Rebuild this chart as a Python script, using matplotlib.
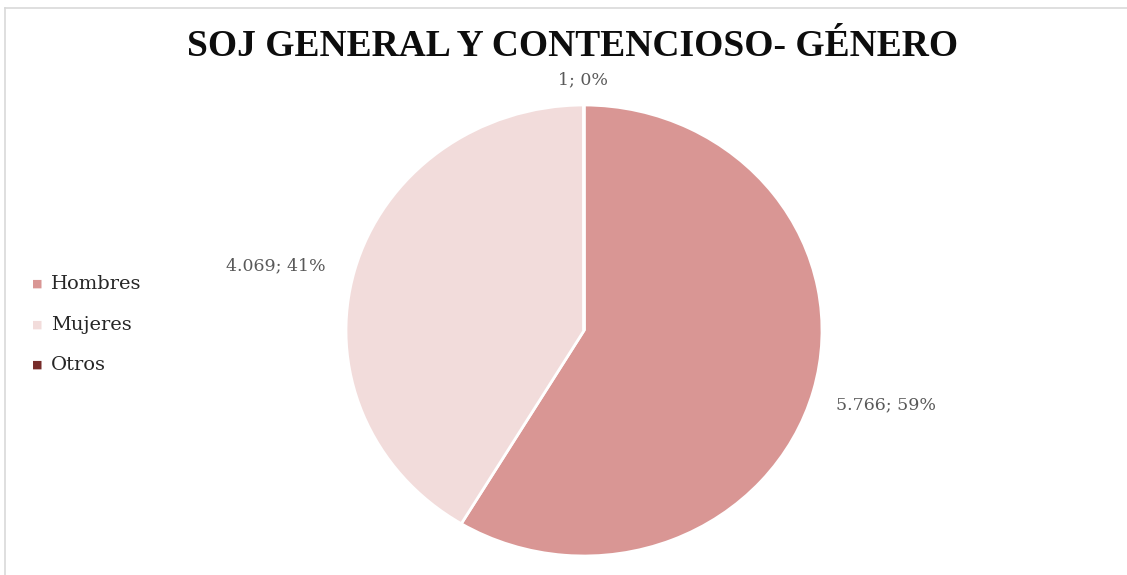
import matplotlib.pyplot as plt
from matplotlib.lines import Line2D

categorias = ['Hombres', 'Mujeres', 'Otros']
valores = [5766, 4069, 1]
etiquetas = ['5.766; 59%', '4.069; 41%', '1; 0%']
colores = ['#D99694', '#F2DCDB', '#772C2A']

W, H = 1127, 575
fig = plt.figure(figsize=(W / 100, H / 100), dpi=100)

# marco gris (solo izquierda y arriba visibles)
fig.add_artist(Line2D([5 / W, 5 / W], [0, 1 - 8 / H], color='#D9D9D9', lw=1.2))
fig.add_artist(Line2D([5 / W, 1], [1 - 8 / H, 1 - 8 / H], color='#D9D9D9', lw=1.2))

# eje del pastel: x 346..822, y 105..556
x0, x1, y0, y1 = 346, 822, 105, 556
ax = fig.add_axes([x0 / W, 1 - y1 / H, (x1 - x0) / W, (y1 - y0) / H])
wedges, _ = ax.pie(valores, colors=colores, startangle=90, counterclock=False,
                   wedgeprops=dict(edgecolor='white', linewidth=2))
ax.set_aspect('auto')
ax.set_xlim(-1.0, 1.0)
ax.set_ylim(-1.0, 1.0)

# etiquetas de datos
pos = [(886, 405), (276, 266), (583, 80)]
for (px, py), t in zip(pos, etiquetas):
    fig.text(px / W, 1 - py / H, t, ha='center', va='center', fontsize=12.5,
             family='DejaVu Serif', color='#595959')

fig.text(573 / W, 1 - 46 / H, 'SOJ GENERAL Y CONTENCIOSO- GÉNERO', ha='center', va='center',
         fontsize=27, fontweight='bold', family='Liberation Serif', color='#0D0D0D')

# leyenda
ly = [284, 325, 365]
for c, lab, y in zip(colores, categorias, ly):
    fig.text(37 / W, 1 - y / H, '■', ha='center', va='center', fontsize=8, color=c,
             family='DejaVu Sans')
    fig.text(51 / W, 1 - y / H, lab, ha='left', va='center', fontsize=14,
             family='DejaVu Serif', color='#262626')

fig.savefig('out.png', dpi=100)
